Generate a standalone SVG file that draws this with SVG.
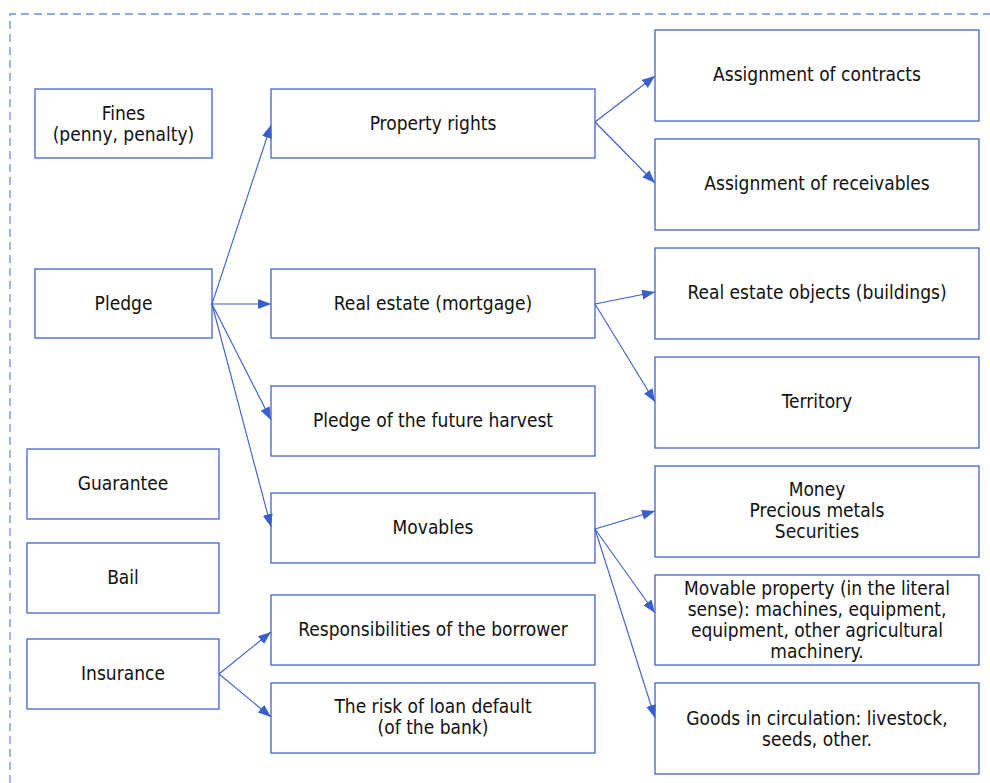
<svg xmlns="http://www.w3.org/2000/svg" width="990" height="783" viewBox="0 0 990 783">
<style>
.box{fill:#fff;stroke:#3f66cc;stroke-width:1.3}
.t{font-family:"DejaVu Sans Condensed","DejaVu Sans",Verdana,sans-serif;font-stretch:condensed;font-size:19px;fill:#111;text-anchor:middle}
.c{stroke:#3a5fc8;stroke-width:1.1;fill:none;marker-end:url(#ah)}
.frame{stroke:#6f8fd6;stroke-width:1.3;fill:none;stroke-dasharray:8 5}
</style>
<defs>
<marker id="ah" markerUnits="userSpaceOnUse" markerWidth="14" markerHeight="11" refX="13" refY="5" orient="auto">
<path d="M0,0 L13,5 L0,10 z" fill="#3a5fc8"/>
</marker>
</defs>
<path class="frame" d="M10,783 L10,14 L990,14"/>
<g id="fines"><rect class="box" x="35" y="89" width="177" height="69"/><text class="t" x="123.5" y="119.5">Fines</text><text class="t" x="123.5" y="140.5">(penny, penalty)</text></g>
<g id="pledge"><rect class="box" x="35" y="269" width="177" height="69"/><text class="t" x="123.5" y="310">Pledge</text></g>
<g id="guarantee"><rect class="box" x="27" y="449" width="192" height="70"/><text class="t" x="123" y="490">Guarantee</text></g>
<g id="bail"><rect class="box" x="27" y="543" width="192" height="70"/><text class="t" x="123" y="584">Bail</text></g>
<g id="insurance"><rect class="box" x="27" y="639" width="192" height="70"/><text class="t" x="123" y="680">Insurance</text></g>
<g id="property"><rect class="box" x="271" y="89" width="324" height="69"/><text class="t" x="433" y="130">Property rights</text></g>
<g id="realestate"><rect class="box" x="271" y="269" width="324" height="69"/><text class="t" x="433" y="310">Real estate (mortgage)</text></g>
<g id="harvest"><rect class="box" x="271" y="386" width="324" height="70"/><text class="t" x="433" y="427">Pledge of the future harvest</text></g>
<g id="movables"><rect class="box" x="271" y="493" width="324" height="70"/><text class="t" x="433" y="534">Movables</text></g>
<g id="resp"><rect class="box" x="271" y="595" width="324" height="70"/><text class="t" x="433" y="636">Responsibilities of the borrower</text></g>
<g id="risk"><rect class="box" x="271" y="683" width="324" height="70"/><text class="t" x="433" y="713">The risk of loan default</text><text class="t" x="433" y="734">(of the bank)</text></g>
<g id="contracts"><rect class="box" x="655" y="30" width="324" height="91"/><text class="t" x="817" y="81">Assignment of contracts</text></g>
<g id="receivables"><rect class="box" x="655" y="139" width="324" height="91"/><text class="t" x="817" y="190">Assignment of receivables</text></g>
<g id="objects"><rect class="box" x="655" y="248" width="324" height="91"/><text class="t" x="817" y="299">Real estate objects (buildings)</text></g>
<g id="territory"><rect class="box" x="655" y="357" width="324" height="91"/><text class="t" x="817" y="408">Territory</text></g>
<g id="money"><rect class="box" x="655" y="466" width="324" height="91"/><text class="t" x="817" y="496">Money</text><text class="t" x="817" y="517">Precious metals</text><text class="t" x="817" y="538">Securities</text></g>
<g id="movprop"><rect class="box" x="655" y="575" width="324" height="90"/><text class="t" x="817" y="595">Movable property (in the literal</text><text class="t" x="817" y="616">sense): machines, equipment,</text><text class="t" x="817" y="637">equipment, other agricultural</text><text class="t" x="817" y="658">machinery.</text></g>
<g id="goods"><rect class="box" x="655" y="683" width="324" height="91"/><text class="t" x="817" y="725">Goods in circulation: livestock,</text><text class="t" x="817" y="746">seeds, other.</text></g>
<g id="connectors">
<line class="c" x1="212" y1="304" x2="271" y2="125"/>
<line class="c" x1="212" y1="304" x2="271" y2="304"/>
<line class="c" x1="212" y1="304" x2="271" y2="420"/>
<line class="c" x1="212" y1="304" x2="271" y2="527"/>
<line class="c" x1="595" y1="122" x2="655" y2="76"/>
<line class="c" x1="595" y1="122" x2="655" y2="183"/>
<line class="c" x1="595" y1="304" x2="655" y2="292"/>
<line class="c" x1="595" y1="304" x2="655" y2="402"/>
<line class="c" x1="595" y1="529" x2="655" y2="511"/>
<line class="c" x1="595" y1="529" x2="655" y2="613"/>
<line class="c" x1="595" y1="529" x2="655" y2="718"/>
<line class="c" x1="219" y1="674" x2="271" y2="632"/>
<line class="c" x1="219" y1="674" x2="271" y2="717"/>
</g>
</svg>
